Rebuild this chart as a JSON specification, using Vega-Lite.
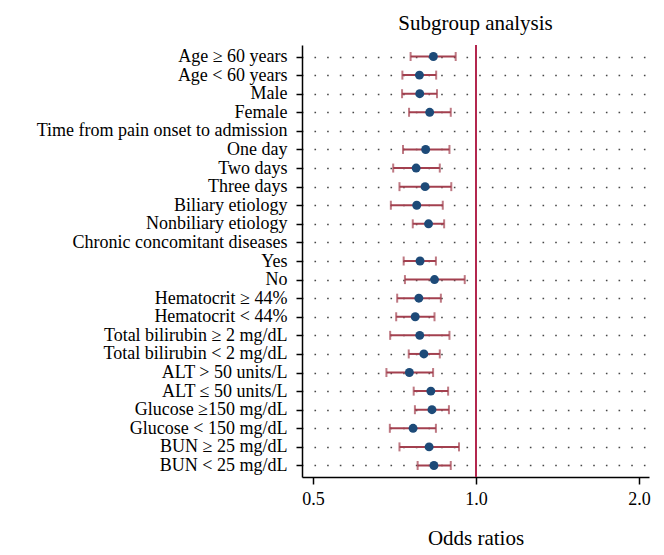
{
  "$schema": "https://vega.github.io/schema/vega-lite/v6.json",
  "width": 347,
  "height": 432,
  "autosize": {"type": "none"},
  "padding": {"left": 302, "top": 45, "right": 15, "bottom": 78},
  "background": "white",
  "title": {
    "text": "Subgroup analysis",
    "font": "Liberation Serif",
    "fontSize": 21,
    "fontWeight": "normal",
    "color": "black",
    "anchor": "middle",
    "offset": 10
  },
  "data": {
    "values": [
      {"label": "Age ≥ 60 years", "or": 0.834, "lo": 0.757, "hi": 0.917},
      {"label": "Age < 60 years", "or": 0.786, "lo": 0.731, "hi": 0.844},
      {"label": "Male", "or": 0.787, "lo": 0.730, "hi": 0.847},
      {"label": "Female", "or": 0.821, "lo": 0.752, "hi": 0.898},
      {"label": "Time from pain onset to admission", "or": null, "lo": null, "hi": null},
      {"label": "One day", "or": 0.807, "lo": 0.733, "hi": 0.893},
      {"label": "Two days", "or": 0.775, "lo": 0.703, "hi": 0.857},
      {"label": "Three days", "or": 0.805, "lo": 0.722, "hi": 0.900},
      {"label": "Biliary etiology", "or": 0.777, "lo": 0.696, "hi": 0.868},
      {"label": "Nonbiliary etiology", "or": 0.817, "lo": 0.764, "hi": 0.873},
      {"label": "Chronic concomitant diseases", "or": null, "lo": null, "hi": null},
      {"label": "Yes", "or": 0.788, "lo": 0.735, "hi": 0.843},
      {"label": "No", "or": 0.838, "lo": 0.739, "hi": 0.953},
      {"label": "Hematocrit ≥ 44%", "or": 0.784, "lo": 0.715, "hi": 0.861},
      {"label": "Hematocrit < 44%", "or": 0.772, "lo": 0.712, "hi": 0.838},
      {"label": "Total bilirubin ≥ 2 mg/dL", "or": 0.787, "lo": 0.694, "hi": 0.893},
      {"label": "Total bilirubin < 2 mg/dL", "or": 0.801, "lo": 0.751, "hi": 0.857},
      {"label": "ALT > 50 units/L", "or": 0.753, "lo": 0.683, "hi": 0.833},
      {"label": "ALT ≤ 50 units/L", "or": 0.825, "lo": 0.767, "hi": 0.888},
      {"label": "Glucose ≥150 mg/dL", "or": 0.829, "lo": 0.771, "hi": 0.891},
      {"label": "Glucose < 150 mg/dL", "or": 0.765, "lo": 0.693, "hi": 0.843},
      {"label": "BUN ≥ 25 mg/dL", "or": 0.819, "lo": 0.722, "hi": 0.930},
      {"label": "BUN < 25 mg/dL", "or": 0.836, "lo": 0.780, "hi": 0.898}
    ]
  },
  "encoding": {
    "y": {
      "field": "label",
      "type": "nominal",
      "sort": null,
      "scale": {
        "type": "point",
        "padding": 0.62,
        "domain": ["Age ≥ 60 years", "Age < 60 years", "Male", "Female", "Time from pain onset to admission", "One day", "Two days", "Three days", "Biliary etiology", "Nonbiliary etiology", "Chronic concomitant diseases", "Yes", "No", "Hematocrit ≥ 44%", "Hematocrit < 44%", "Total bilirubin ≥ 2 mg/dL", "Total bilirubin < 2 mg/dL", "ALT > 50 units/L", "ALT ≤ 50 units/L", "Glucose ≥150 mg/dL", "Glucose < 150 mg/dL", "BUN ≥ 25 mg/dL", "BUN < 25 mg/dL"]
      },
      "axis": {
        "title": null,
        "grid": true,
        "gridDash": [1.6, 11.07],
        "gridDashOffset": 0.7,
        "gridColor": "#333333",
        "gridWidth": 1.6,
        "gridOpacity": 0.9,
        "domainColor": "black",
        "domainWidth": 1.5,
        "tickColor": "black",
        "tickWidth": 1.5,
        "tickSize": 6,
        "labelPadding": 9,
        "labelFont": "Liberation Serif",
        "labelFontSize": 18,
        "labelColor": "black",
        "labelLimit": 400
      }
    }
  },
  "layer": [
    {
      "mark": {"type": "rule", "color": "#a3404f", "strokeWidth": 2},
      "encoding": {
        "x": {
          "field": "lo",
          "type": "quantitative",
          "scale": {"type": "log", "domain": [0.477, 2.0864], "nice": false, "zero": false},
          "axis": {
            "title": "Odds ratios",
            "values": [0.5, 1, 2],
            "format": ".1f",
            "grid": false,
            "domainColor": "black",
            "domainWidth": 1.5,
            "tickColor": "black",
            "tickWidth": 1.5,
            "tickSize": 7,
            "labelPadding": 6,
            "labelFont": "Liberation Serif",
            "labelFontSize": 18,
            "labelColor": "black",
            "labelOverlap": false,
            "labelBound": false,
            "titleFont": "Liberation Serif",
            "titleFontSize": 21,
            "titleFontWeight": "normal",
            "titleColor": "black",
            "titlePadding": 19
          }
        },
        "x2": {"field": "hi"}
      }
    },
    {
      "mark": {"type": "tick", "color": "#a3404f", "thickness": 2, "size": 9},
      "encoding": {"x": {"field": "lo", "type": "quantitative"}}
    },
    {
      "mark": {"type": "tick", "color": "#a3404f", "thickness": 2, "size": 9},
      "encoding": {"x": {"field": "hi", "type": "quantitative"}}
    },
    {
      "mark": {"type": "rule", "color": "#b3284f", "strokeWidth": 1.6},
      "encoding": {"x": {"datum": 1}, "y": {"value": 0}, "y2": {"value": 432}}
    },
    {
      "mark": {"type": "circle", "color": "#1d4a78", "size": 80, "opacity": 1},
      "encoding": {"x": {"field": "or", "type": "quantitative"}}
    }
  ],
  "config": {
    "view": {"stroke": null}
  }
}
